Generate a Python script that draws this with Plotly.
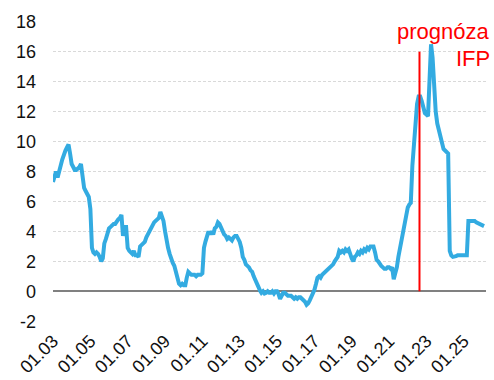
import pandas as pd
import plotly.graph_objects as go

# Monthly year-on-year rate, %, January 2003 onwards
rate_2003 = [7.3, 7.6, 8.0, 7.6, 7.9, 8.4, 8.8, 9.2, 9.4, 9.6, 9.8, 9.2]
rate_2004 = [8.5, 8.3, 8.1, 8.1, 8.2, 8.3, 8.5, 7.6, 6.9, 6.7, 6.5, 6.3]
rate_2005 = [5.5, 2.9, 2.6, 2.5, 2.6, 2.5, 2.3, 2.0, 2.2, 3.2, 3.5, 3.8]
rate_2006 = [4.2, 4.3, 4.4, 4.5, 4.5, 4.7, 4.8, 4.9, 5.1, 3.7, 4.3, 4.3]
rate_2007 = [2.9, 2.7, 2.6, 2.5, 2.7, 2.4, 2.4, 2.3, 3.0, 3.1, 3.2, 3.3]
rate_2008 = [3.6, 3.8, 4.1, 4.3, 4.5, 4.6, 4.7, 4.8, 4.9, 5.3, 5.0, 4.7]
rate_2009 = [4.0, 3.3, 2.9, 2.5, 2.1, 1.9, 1.7, 1.2, 0.7, 0.5, 0.4, 0.5]
rate_2010 = [0.4, 0.4, 0.9, 1.3, 1.2, 1.1, 1.1, 1.1, 1.0, 1.1, 1.1, 1.1]
rate_2011 = [1.2, 2.9, 3.3, 3.7, 4.0, 3.8, 4.0, 3.8, 4.2, 4.3, 4.6, 4.5]
rate_2012 = [4.2, 3.9, 3.8, 3.7, 3.5, 3.6, 3.5, 3.4, 3.6, 3.7, 3.7, 3.5]
rate_2013 = [3.3, 2.9, 2.3, 2.1, 1.8, 1.7, 1.6, 1.4, 1.3, 1.0, 0.7, 0.6]
rate_2014 = [0.3, 0.05, -0.1, 0.0, -0.15, -0.1, 0.0, -0.1, -0.1, 0.0, -0.15, 0.0]
rate_2015 = [0.0, -0.2, -0.5, -0.3, -0.1, -0.1, -0.2, -0.3, -0.3, -0.3, -0.4, -0.5]
rate_2016 = [-0.4, -0.5, -0.4, -0.4, -0.5, -0.6, -0.7, -0.9, -0.8, -0.6, -0.4, -0.2]
rate_2017 = [0.1, 0.5, 0.9, 1.0, 0.9, 1.1, 1.2, 1.3, 1.4, 1.5, 1.6, 1.7]
rate_2018 = [1.8, 2.0, 2.1, 2.3, 2.7, 2.6, 2.7, 2.6, 2.8, 2.7, 2.8, 2.4]
rate_2019 = [2.2, 2.0, 2.3, 2.4, 2.6, 2.5, 2.7, 2.6, 2.8, 2.7, 2.9, 2.8]
rate_2020 = [3.0, 3.0, 3.0, 2.6, 2.1, 2.0, 1.8, 1.7, 1.6, 1.5, 1.5, 1.6]
rate_2021 = [1.6, 1.5, 1.6, 0.8, 1.2, 1.6, 2.3, 2.9, 3.4, 4.0, 4.5, 5.0]
rate_2022 = [5.6, 5.8, 5.9, 8.4, 10.0, 11.2, 12.5, 13.0, 13.0, 12.7, 12.2, 11.9]
rate_2023 = [11.8, 11.7, 14.0, 16.5, 15.6, 13.0, 12.0, 11.2, 10.7, 10.2, 9.8, 9.5]
rate_2024 = [9.4, 9.3, 9.2, 2.7, 2.4, 2.3, 2.3, 2.35, 2.4, 2.4, 2.4, 2.4]
rate_2025 = [2.4, 2.4, 2.4, 4.7, 4.7, 4.7, 4.75, 4.7, 4.6, 4.55, 4.5, 4.4]
rate_2026 = [4.35, 4.35]

rates = (rate_2003 + rate_2004 + rate_2005 + rate_2006 + rate_2007 + rate_2008
         + rate_2009 + rate_2010 + rate_2011 + rate_2012 + rate_2013 + rate_2014
         + rate_2015 + rate_2016 + rate_2017 + rate_2018 + rate_2019 + rate_2020
         + rate_2021 + rate_2022 + rate_2023 + rate_2024 + rate_2025 + rate_2026)
months = pd.date_range("2003-01-01", periods=len(rates), freq="MS")

y_ticks = [-2, 0, 2, 4, 6, 8, 10, 12, 14, 16, 18]
y_tick_labels = ["-2", "0", "2", "4", "6", "8", "10", "12", "14", "16", "18"]

forecast_start = "2022-08-18"
forecast_label = ["prognóza", "IFP"]
forecast_line_top = 16

fig = go.Figure()
fig.add_trace(go.Scatter(
    x=months, y=rates, mode="lines",
    line=dict(color="#33abe1", width=4),
    hoverinfo="skip", showlegend=False,
))

fig.add_shape(type="line", xref="x", yref="y",
              x0=forecast_start, x1=forecast_start, y0=0, y1=forecast_line_top,
              line=dict(color="#ff0000", width=2), layer="above")

fig.add_annotation(text=forecast_label[0], xref="paper", yref="y",
                   x=1.014, y=17.35, xanchor="right", yanchor="middle",
                   showarrow=False, font=dict(size=22, color="#ff0000"))
fig.add_annotation(text=forecast_label[1], xref="paper", yref="y",
                   x=1.014, y=15.55, xanchor="right", yanchor="middle",
                   showarrow=False, font=dict(size=22, color="#ff0000"))

fig.update_layout(
    width=494, height=380,
    margin=dict(l=53, r=8, t=21, b=58),
    paper_bgcolor="white", plot_bgcolor="white",
    font=dict(family="Liberation Sans, Arial, sans-serif", size=18, color="#111111"),
    xaxis=dict(
        type="date", range=["2003-01-01", "2026-03-11"],
        tick0="2003-01-01", dtick="M24", tickformat="%m.%y",
        tickangle=-45, showgrid=False, zeroline=False, showline=False,
        ticks="", ticklabelstandoff=4, automargin=False,
    ),
    yaxis=dict(
        range=[-2.05, 18.05], tickmode="array",
        tickvals=y_ticks, ticktext=y_tick_labels,
        showgrid=True, gridcolor="#d9d9d9", gridwidth=1, griddash="3px,2px",
        zeroline=True, zerolinecolor="#808080", zerolinewidth=2,
        showline=False, ticks="", ticklabelstandoff=16, automargin=False,
    ),
)

fig.write_html("out.html")
